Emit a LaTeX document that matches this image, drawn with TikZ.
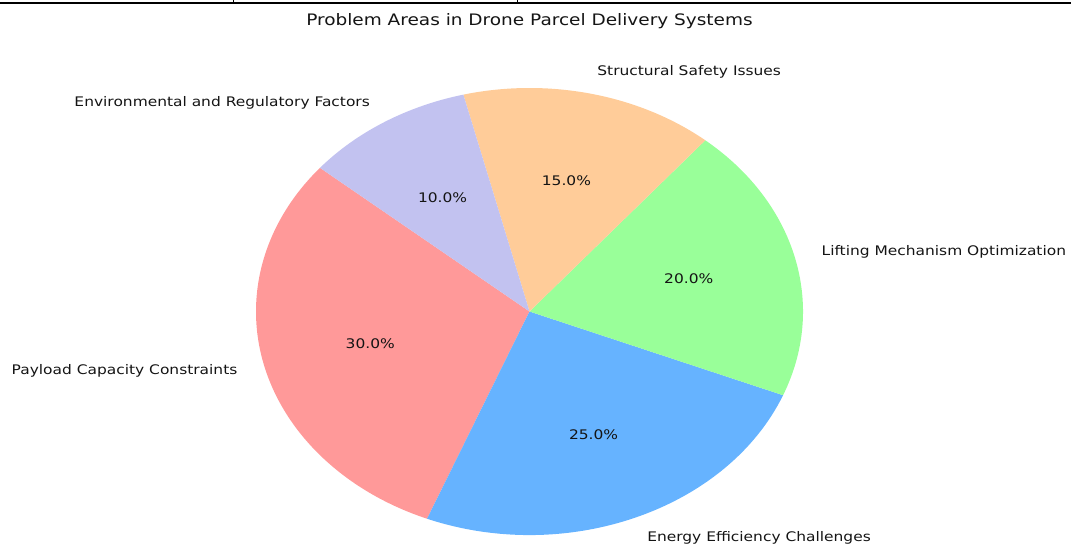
\documentclass[tikz,border=0pt]{standalone}
\usepackage{fontspec}
\usepackage{graphicx}
\setmainfont{DejaVu Sans}
\usetikzlibrary{calc}

\definecolor{payload}{HTML}{FF9999}
\definecolor{energy}{HTML}{66B3FF}
\definecolor{lifting}{HTML}{99FF99}
\definecolor{structural}{HTML}{FFCC99}
\definecolor{environ}{HTML}{C2C2F0}
\definecolor{ink}{HTML}{141414}

% text is set slightly wide, like the stretched chart
\newcommand{\widetext}[1]{\scalebox{1.17}[1]{#1}}

\tikzset{
  label text/.style={inner sep=0pt, text=ink, font=\fontsize{13.2}{15}\selectfont},
  pct text/.style={label text},
  title text/.style={inner sep=0pt, text=ink, font=\fontsize{15.8}{18}\selectfont},
}

% pie slice: #1 colour, #2 start angle, #3 end angle
\newcommand{\pieslice}[3]{%
  \fill[#1] (c) -- ++(#2:273.5 and 223.5)
    arc[start angle=#2, end angle=#3, x radius=273.5, y radius=223.5] -- cycle;}

\begin{document}
\begin{tikzpicture}[x=1pt, y=1pt]
\useasboundingbox (0,0) rectangle (1071,547);

% page rule along the top edge
\draw[line width=2.2pt] (0,543.8) -- (1071,543.8);
\draw[line width=1pt] (233,547) -- (233,544);
\draw[line width=1pt] (517,547) -- (517,544);

\coordinate (c) at (529.5,235.5);

% pie slices, counter-clockwise from 140 degrees
\pieslice{payload}{140}{248}
\pieslice{energy}{248}{338}
\pieslice{lifting}{338}{410}
\pieslice{structural}{410}{464}
\pieslice{environ}{104}{140}

% title
\node[title text, anchor=base] (title) at (529.5,521.5)
  {\widetext{Problem Areas in Drone Parcel Delivery Systems}};

% category labels at 1.1 radius
\node[label text, anchor=east] (lpayload) at ($(c)+(194:300.9 and 245.9)$)
  {\widetext{Payload Capacity Constraints}};
\node[label text, anchor=west] (lenergy) at ($(c)+(293:300.9 and 245.9)$)
  {\widetext{Energy Efficiency Challenges}};
\node[label text, anchor=west] (llifting) at ($(c)+(14:300.9 and 245.9)$)
  {\widetext{Lifting Mechanism Optimization}};
\node[label text, anchor=west] (lstruct) at ($(c)+(77:300.9 and 245.9)$)
  {\widetext{Structural Safety Issues}};
\node[label text, anchor=east] (lenv) at ($(c)+(122:300.9 and 245.9)$)
  {\widetext{Environmental and Regulatory Factors}};

% percentages at 0.6 radius
\node[pct text] (ppayload) at ($(c)+(194:164.1 and 134.1)$) {\widetext{30.0\%}};
\node[pct text] (penergy) at ($(c)+(293:164.1 and 134.1)$) {\widetext{25.0\%}};
\node[pct text] (plifting) at ($(c)+(14:164.1 and 134.1)$) {\widetext{20.0\%}};
\node[pct text] (pstruct) at ($(c)+(77:164.1 and 134.1)$) {\widetext{15.0\%}};
\node[pct text] (penv) at ($(c)+(122:164.1 and 134.1)$) {\widetext{10.0\%}};
\end{tikzpicture}
\end{document}
